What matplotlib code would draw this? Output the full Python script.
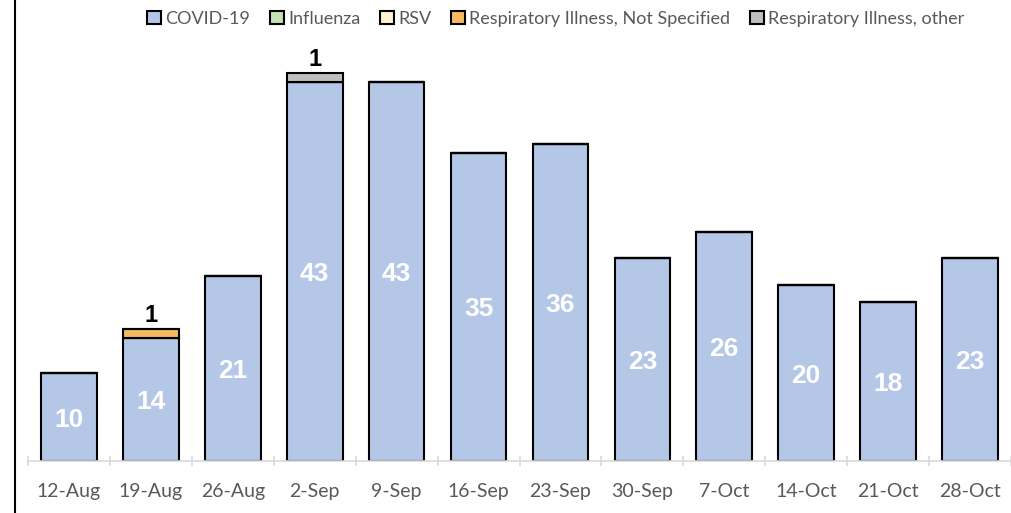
import matplotlib.pyplot as plt
import numpy as np
from matplotlib.lines import Line2D

plt.rcParams['font.family'] = ['Lato', 'DejaVu Sans']

weeks = ['12-Aug', '19-Aug', '26-Aug', '2-Sep', '9-Sep', '16-Sep', '23-Sep',
         '30-Sep', '7-Oct', '14-Oct', '21-Oct', '28-Oct']
covid = [10, 14, 21, 43, 43, 35, 36, 23, 26, 20, 18, 23]
influenza = [0, 0, 0, 0, 0, 0, 0, 0, 0, 0, 0, 0]
rsv = [0, 0, 0, 0, 0, 0, 0, 0, 0, 0, 0, 0]
resp_ns = [0, 1, 0, 0, 0, 0, 0, 0, 0, 0, 0, 0]
resp_other = [0, 0, 0, 1, 0, 0, 0, 0, 0, 0, 0, 0]

series = [('COVID-19', covid, '#B4C7E7'),
          ('Influenza', influenza, '#C5E0B4'),
          ('RSV', rsv, '#FFF2CC'),
          ('Respiratory Illness, Not Specified', resp_ns, '#F4B961'),
          ('Respiratory Illness, other', resp_other, '#BFBFBF')]

bold_font = ['Liberation Sans', 'DejaVu Sans']

fig = plt.figure(figsize=(10.11, 5.13), dpi=100)
ax = fig.add_axes([28/1011, 52/513, 983/1011, 401/513])

x = np.arange(len(weeks))
bottom = np.zeros(len(weeks))
for name, vals, col in series:
    vals = np.array(vals, dtype=float)
    ax.bar(x, vals, 0.68, bottom=bottom, color=col, edgecolor='black',
           linewidth=1.5, label=name)
    for i, v in enumerate(vals):
        if v <= 0:
            continue
        if name == 'COVID-19':
            # white value in the middle of the COVID segment
            ax.text(i, bottom[i] + v/2 - 0.3, str(int(v)), ha='center', va='center',
                    color='white', fontsize=19, fontweight='bold', family=bold_font)
        else:
            ax.text(i, bottom[i] + v + 0.2, str(int(v)), ha='center', va='bottom',
                    color='black', fontsize=17, fontweight='bold', family=bold_font)
    bottom += vals

ax.set_xlim(-0.5, len(weeks) - 0.5)
ax.set_ylim(0, 45.5)
ax.set_yticks([])
for s in ['top', 'right', 'left']:
    ax.spines[s].set_visible(False)
ax.spines['bottom'].set_color('#D9D9D9')
ax.spines['bottom'].set_linewidth(1.2)
ax.set_xticks(x)
ax.set_xticklabels(weeks, fontsize=14, color='#595959')
ax.tick_params(axis='x', length=0, pad=16)
ax.set_xticks(np.arange(-0.5, len(weeks)), minor=True)
ax.tick_params(axis='x', which='minor', length=7, color='#D9D9D9', width=1.2,
               direction='inout')

leg = ax.legend(loc='center', bbox_to_anchor=(0.537, 1.102), ncol=5, frameon=False,
                fontsize=13, handlelength=0.75, handleheight=0.75, handletextpad=0.25,
                columnspacing=1.1, labelcolor='#595959')

fig.add_artist(Line2D([15/1011, 15/1011], [0, 1], color='black', linewidth=1.5,
                      transform=fig.transFigure))

plt.savefig('out.png', dpi=100)
